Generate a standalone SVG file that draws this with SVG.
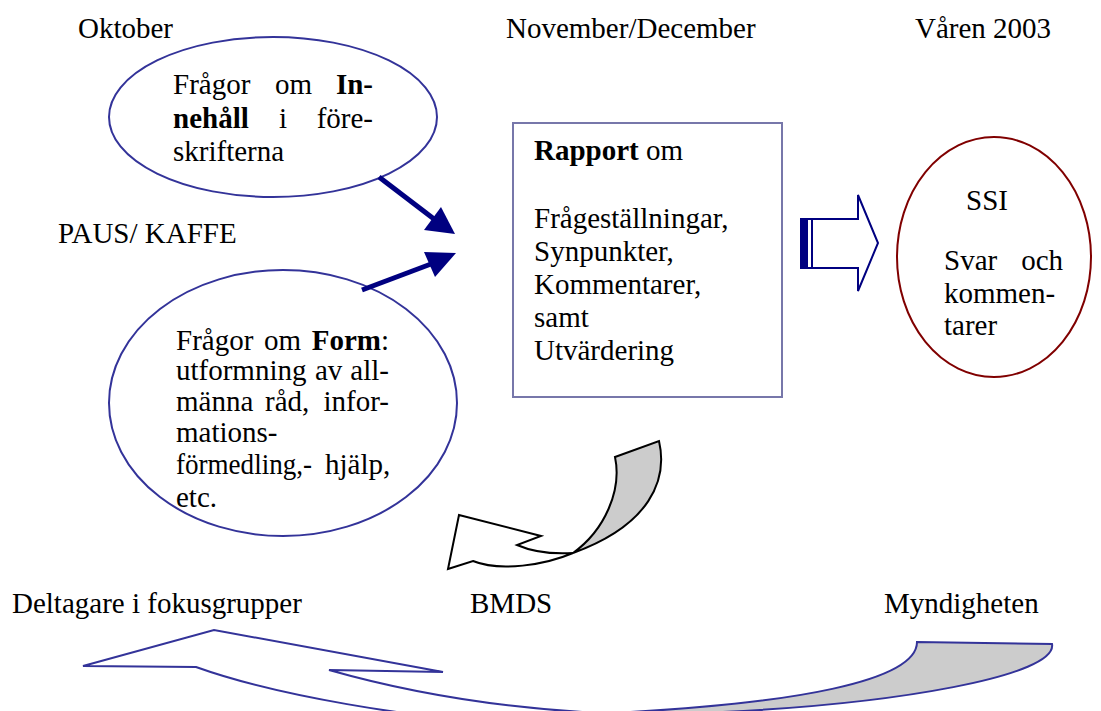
<svg xmlns="http://www.w3.org/2000/svg" width="1101" height="711" viewBox="0 0 1101 711" font-family="'Liberation Serif', 'DejaVu Serif', serif">
<style>
text{font-family:'Liberation Serif','DejaVu Serif',serif;font-size:29px;fill:#000}
.b{font-weight:bold}
.ell{fill:#fff;stroke:#333399;stroke-width:2}
</style>
<rect width="1101" height="711" fill="#fff"/>
<g id="labels">
<text x="78" y="38">Oktober</text>
<text x="506" y="38">November/December</text>
<text x="915" y="38">Våren 2003</text>
<text x="58" y="243">PAUS/ KAFFE</text>
<text x="12" y="613">Deltagare i fokusgrupper</text>
<text x="470" y="613">BMDS</text>
<text x="884" y="613">Myndigheten</text>
</g>
<g id="innehall">
<ellipse class="ell" cx="273" cy="117" rx="164" ry="80"/>
<text x="173" y="94">Frågor</text><text x="275" y="94">om</text><text x="373" y="94" text-anchor="end" class="b">In-</text>
<text x="173" y="128" class="b">nehåll</text><text x="279" y="128">i</text><text x="373" y="128" text-anchor="end">före-</text>
<text x="173" y="161">skrifterna</text>
</g>
<g id="form">
<ellipse class="ell" cx="283" cy="403" rx="174" ry="133"/>
<text x="176" y="350">Frågor</text><text x="264" y="350">om</text><text x="389" y="350" text-anchor="end"><tspan class="b">Form</tspan>:</text>
<text x="176" y="380">utformning</text><text x="315" y="380">av</text><text x="389" y="380" text-anchor="end">all-</text>
<text x="176" y="411">männa</text><text x="265" y="411">råd,</text><text x="389" y="411" text-anchor="end">infor-</text>
<text x="176" y="442">mations-</text>
<text x="176" y="474" font-size="28" textLength="136" lengthAdjust="spacingAndGlyphs">förmedling,-</text><text x="325" y="474" font-size="28">hjälp,</text>
<text x="176" y="507">etc.</text>
</g>
<g id="rapport">
<rect x="513" y="123" width="269" height="274" fill="#fff" stroke="#7777aa" stroke-width="2"/>
<text x="534" y="160"><tspan class="b">Rapport</tspan> om</text>
<text x="534" y="228">Frågeställningar,</text>
<text x="534" y="261">Synpunkter,</text>
<text x="534" y="294">Kommentarer,</text>
<text x="534" y="327">samt</text>
<text x="534" y="360">Utvärdering</text>
</g>
<g id="ssi">
<ellipse cx="994" cy="257" rx="97" ry="120" fill="#fff" stroke="#800000" stroke-width="2"/>
<text x="966" y="210">SSI</text>
<text x="944" y="270">Svar</text><text x="1063" y="270" text-anchor="end">och</text>
<text x="944" y="303">kommen-</text>
<text x="944" y="335">tarer</text>
</g>
<g id="connectors">
<line x1="379" y1="177" x2="434" y2="219" stroke="#000080" stroke-width="5"/>
<polygon points="455,234 441,207 424,230" fill="#000080"/>
<line x1="362" y1="290" x2="431" y2="264" stroke="#000080" stroke-width="5"/>
<polygon points="456,253 424,252 435,277" fill="#000080"/>
<g fill="#fff" stroke="#000080" stroke-width="2">
<rect x="801" y="219" width="4" height="49" fill="#000080"/>
<rect x="807" y="219" width="5" height="49"/>
<polygon points="812,219 858,219 858,195 878,243 858,291 858,268 812,268"/>
</g>
<g stroke="#000" stroke-width="2" stroke-linejoin="miter">
<path d="M615,457 L659,441 C668,480 650,525 573,553 C605,530 622,490 615,457 Z" fill="#cccccc"/>
<path d="M573,553 C545,565 500,572 473,561 L448,569 L459,515 L541,536 L517,545 Q540,555 573,553 Z" fill="#fff"/>
</g>
<g stroke="#333399" stroke-width="2">
<path d="M917,642 L1052,644 C1058,675 900,705 700,713 L590,714 C800,705 917,680 917,642 Z" fill="#cccccc"/>
<path d="M83,666 L214,630 L443,672 L329,670 C410,693 500,708 600,713 L600,730 C400,722 260,690 196,667 Z" fill="#fff"/>
</g>
</g>
</svg>
